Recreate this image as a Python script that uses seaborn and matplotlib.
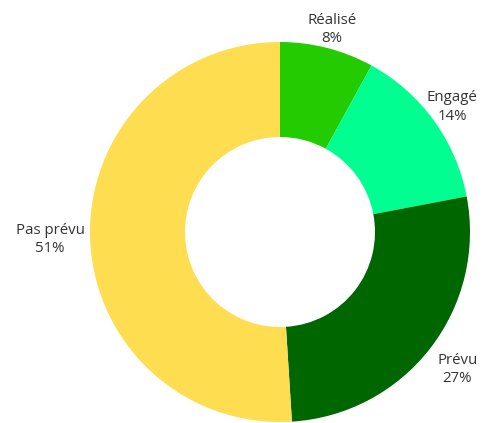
import matplotlib.pyplot as plt
import numpy as np
import seaborn as sns

LABELS = ["Réalisé", "Engagé", "Prévu", "Pas prévu"]
SHARES = [8, 14, 27, 51]
COLORS = ["#22cc00", "#00ff90", "#006600", "#ffdd50"]
LABEL_DIST = [1.10, 1.12, 1.18, 1.21]


def main() -> None:
    sns.set_style("white")
    plt.rcParams["font.family"] = ["Open Sans", "DejaVu Sans"]

    fig = plt.figure(figsize=(4.87, 4.23), dpi=100)
    ax = fig.add_axes([90 / 487, 1 / 423, 380 / 487, 380 / 423])

    wedges, _ = ax.pie(
        SHARES,
        colors=COLORS,
        startangle=90,
        counterclock=False,
        radius=1.0,
        wedgeprops=dict(width=0.5, edgecolor="none"),
    )

    # label each ring slice just outside its middle
    for wedge, name, share, dist in zip(wedges, LABELS, SHARES, LABEL_DIST):
        mid = np.deg2rad((wedge.theta1 + wedge.theta2) / 2)
        ax.text(
            dist * np.cos(mid),
            dist * np.sin(mid),
            f"{name}\n{share}%",
            ha="center",
            va="center",
            fontsize=10.8,
            color="#333333",
            linespacing=1.3,
        )

    ax.set_xlim(-1, 1)
    ax.set_ylim(-1, 1)
    ax.set_aspect("equal")
    ax.axis("off")
    fig.savefig("out.png", dpi=100)
    plt.close(fig)


if __name__ == "__main__":
    main()
